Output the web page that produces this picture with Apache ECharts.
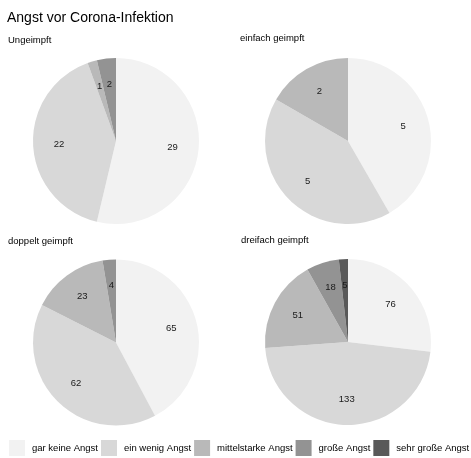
<!DOCTYPE html>
<html>
<head>
<meta charset="utf-8">
<script src="https://cdn.jsdelivr.net/npm/echarts@6/dist/echarts.min.js"></script>
<style>
html,body{margin:0;padding:0;background:#fff;}
#c{width:471px;height:458px;}
</style>
</head>
<body>
<div id="c"></div>
<script>
const categories = ["gar keine Angst", "ein wenig Angst", "mittelstarke Angst", "große Angst", "sehr große Angst"];
const colors = ["#f2f2f2", "#d8d8d8", "#b9b9b9", "#939393", "#595959"];
const panels = ["Ungeimpft", "einfach geimpft", "doppelt geimpft", "dreifach geimpft"];
const ungeimpft = [29, 22, 1, 2, 0];
const einfach = [5, 5, 2, 0, 0];
const doppelt = [65, 62, 23, 4, 0];
const dreifach = [76, 133, 51, 18, 5];
const panelValues = [ungeimpft, einfach, doppelt, dreifach];

const centers = [[116, 141], [348, 141], [116, 342.5], [348, 342]];
const titlePos = [[8, 35], [240, 33], [8, 236], [241, 235]];
const R = 83;
const FONT = "'Liberation Sans', Arial, sans-serif";

function mkData(vals) {
  const d = [];
  vals.forEach((v, i) => { if (v > 0) d.push({ name: categories[i], value: v, itemStyle: { color: colors[i] } }); });
  return d;
}

const series = [];
panelValues.forEach((vals, p) => {
  series.push({
    type: 'pie', center: centers[p], radius: [0, R], startAngle: 90, clockwise: true,
    data: mkData(vals), label: { show: false }, labelLine: { show: false },
    itemStyle: { borderWidth: 0 }, animation: false, silent: true
  });
});
panelValues.forEach((vals, p) => {
  series.push({
    type: 'pie', center: centers[p], radius: [25, R], startAngle: 90, clockwise: true,
    data: mkData(vals).map(d => ({ name: d.name, value: d.value, itemStyle: { color: 'rgba(0,0,0,0)' } })),
    label: { show: true, position: 'inside', formatter: '{c}', color: '#1a1a1a', fontSize: 9.5, fontFamily: FONT },
    labelLine: { show: false }, itemStyle: { borderWidth: 0 }, animation: false, silent: true,
    legendHoverLink: false
  });
});

const titles = [{ text: 'Angst vor Corona-Infektion', left: 7, top: 11, padding: 0, textStyle: { fontSize: 14, fontWeight: 'normal', color: '#000', fontFamily: FONT } }];
panels.forEach((t, p) => {
  titles.push({ text: t, left: titlePos[p][0], top: titlePos[p][1], padding: 0, textStyle: { fontSize: 9.5, fontWeight: 'normal', color: '#000', fontFamily: FONT } });
});

const chart = echarts.init(document.getElementById('c'), null, { renderer: 'canvas' });
chart.setOption({
  animation: false,
  title: titles,
  legend: {
    data: categories, left: 9, top: 440, padding: 0, itemWidth: 16, itemHeight: 16, itemGap: 3,
    icon: 'rect', selectedMode: false,
    textStyle: { fontSize: 9.5, color: '#000', fontFamily: FONT, padding: [0, 0, 0, 2] }
  },
  series: series
});
</script>
</body>
</html>
